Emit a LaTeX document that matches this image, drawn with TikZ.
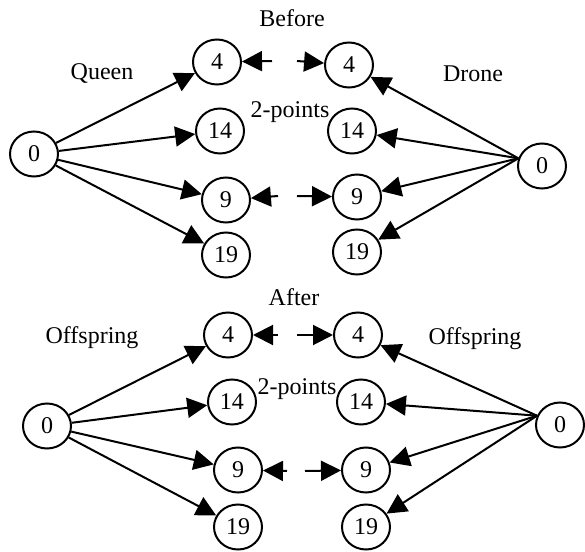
\documentclass[tikz,border=0pt]{standalone}
\usepackage{fontspec}
\setmainfont{Liberation Serif}
\usetikzlibrary{arrows.meta,shapes.geometric}

\tikzset{
  gene/.style={draw, ellipse, line width=1pt, minimum width=24pt, minimum height=22.5pt,
               inner sep=0pt, font=\fontsize{12}{14}\selectfont},
  lbl/.style={font=\fontsize{12}{14}\selectfont, inner sep=0pt},
  link/.style={line width=1pt, -{Triangle[length=10pt,width=10pt]}}
}

\begin{document}
\begin{tikzpicture}[x=0.5pt, y=-0.5pt]
\useasboundingbox (0,0) rectangle (585,552);

% ---------- before crossover ----------
\node[lbl] (before) at (292,18) {Before};
\node[lbl] (queen)  at (102,73) {Queen};
\node[lbl] (drone)  at (473,74) {Drone};
\node[lbl] (tp1)    at (290,112) {2-points};

\node[gene] (q0)  at (34,154)  {0};
\node[gene] (q4)  at (217,62)  {4};
\node[gene] (q14) at (220,131) {14};
\node[gene] (q9)  at (226,200) {9};
\node[gene] (q19) at (226,255) {19};

\node[gene] (d0)  at (542,166) {0};
\node[gene] (d4)  at (349,65)  {4};
\node[gene] (d14) at (352,131) {14};
\node[gene] (d9)  at (357,197) {9};
\node[gene] (d19) at (357,252) {19};

\foreach \t in {q4,q14,q9,q19} \draw[link] (q0) -- (\t);
\foreach \t in {d4,d14,d9,d19} \draw[link] (d0.162) -- (\t);

\coordinate (a1) at (272,61);
\coordinate (a2) at (297,61);
\coordinate (a3) at (278,196);
\coordinate (a4) at (297,196);
\draw[link] (a1) -- (q4);
\draw[link] (a2) -- (d4);
\draw[link] (a3) -- (q9);
\draw[link] (a4) -- (d9);

% ---------- after crossover ----------
\node[lbl] (after) at (294,297) {After};
\node[lbl] (offl)  at (92,338)  {Offspring};
\node[lbl] (offr)  at (475,339) {Offspring};
\node[lbl] (tp2)   at (297,389) {2-points};

\node[gene] (o0)  at (47,426)  {0};
\node[gene] (o4)  at (228,335) {4};
\node[gene] (o14) at (232,402) {14};
\node[gene] (o9)  at (238,470) {9};
\node[gene] (o19) at (238,527) {19};

\node[gene] (p0)  at (560,425) {0};
\node[gene] (p4)  at (358,335) {4};
\node[gene] (p14) at (361,402) {14};
\node[gene] (p9)  at (366,470) {9};
\node[gene] (p19) at (366,527) {19};

\foreach \t in {o4,o14,o9,o19} \draw[link] (o0) -- (\t);
\foreach \t in {p4,p14,p9,p19} \draw[link] (p0.158) -- (\t);

\coordinate (b1) at (278,335);
\coordinate (b2) at (297,335);
\coordinate (b3) at (287,471);
\coordinate (b4) at (305,471);
\draw[link] (b1) -- (o4);
\draw[link] (b2) -- (p4);
\draw[link] (b3) -- (o9);
\draw[link] (b4) -- (p9);
\end{tikzpicture}
\end{document}
